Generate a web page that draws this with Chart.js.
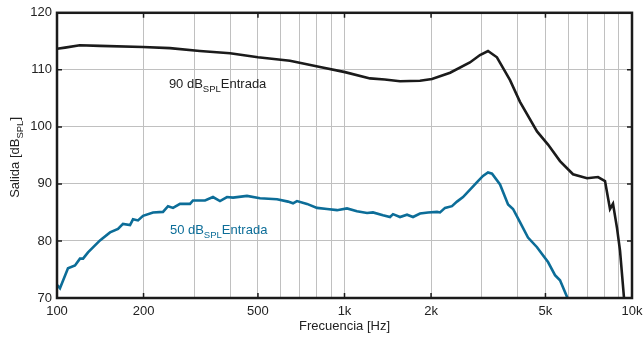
<!DOCTYPE html>
<html>
<head>
<meta charset="utf-8">
<script src="https://cdn.jsdelivr.net/npm/chart.js@4.4.1/dist/chart.umd.min.js"></script>
<style>
    html, body { margin:0; padding:0; background:#ffffff; }
    #wrap { width:644px; height:338px; }
</style>
</head>
<body>
<div id="wrap"><canvas id="chart" width="644" height="338"></canvas></div>
<script>
// ==========================================================
// DATA
// ==========================================================

// 90 dB SPL input (black)
const freq90 = [100, 106.6, 120, 141, 199, 247, 314, 400, 500, 646, 822, 1004, 1227, 1380, 1560,
                1830, 2015, 2330, 2730, 2960, 3156, 3390, 3765, 4077, 4673, 5104, 5618, 6234,
                6976, 7617, 8056, 8385, 8589, 8867, 9085, 9381, 9500];
const level90 = [113.7, 113.9, 114.3, 114.2, 114.0, 113.8, 113.3, 112.9, 112.2, 111.6, 110.5, 109.6,
                 108.5, 108.3, 108.0, 108.1, 108.4, 109.5, 111.3, 112.6, 113.3, 112.2, 108.2, 104.4,
                 99.2, 96.9, 94.0, 91.7, 91.0, 91.2, 90.5, 85.6, 86.5, 82.3, 78.3, 70.0, 68.0];

// 50 dB SPL input (blue)
const freq50 = [100, 102.4, 109.2, 115.5, 120.2, 123.2, 128.2, 141.1, 152.9, 163.0, 169.6, 179.5,
                183.8, 191.3, 199.2, 215.8, 233.7, 243.3, 253.3, 267.8, 290.1, 297.2, 314.3, 327.2,
                348.8, 368.9, 390.2, 409.5, 458.0, 508.3, 582.5, 636.1, 662.1, 683.6, 740.6, 802.2,
                869.2, 941.7, 1020, 1105, 1198, 1256, 1361, 1440, 1475, 1560, 1650, 1731, 1831,
                1952, 2098, 2149, 2237, 2365, 2462, 2584, 2733, 2913, 3032, 3156, 3260, 3475, 3706,
                3857, 4077, 4348, 4673, 4864, 5104, 5398, 5618, 5941, 6150];
const level50 = [72.3, 71.7, 75.2, 75.7, 76.9, 76.9, 78.0, 80.1, 81.5, 82.1, 83.0, 82.8,
                 83.8, 83.6, 84.4, 85.0, 85.1, 86.1, 85.8, 86.5, 86.5, 87.1, 87.1, 87.1,
                 87.7, 87.0, 87.7, 87.6, 87.9, 87.5, 87.3, 86.9, 86.6, 87.0, 86.5, 85.8,
                 85.6, 85.4, 85.7, 85.2, 84.9, 85.0, 84.5, 84.2, 84.7, 84.2, 84.6, 84.2, 84.8,
                 85.0, 85.1, 85.0, 85.8, 86.1, 86.9, 87.7, 89.0, 90.5, 91.4, 92.0, 91.8, 89.9, 86.4,
                 85.6, 83.3, 80.6, 78.9, 77.7, 76.3, 74.0, 73.1, 70.2, 68.5];

// Axis ticks
const xTickLabels = { 100:"100", 200:"200", 500:"500", 1000:"1k", 2000:"2k", 5000:"5k", 10000:"10k" };
const yTicks = [70, 80, 90, 100, 110, 120];

// Text labels  [text, subscript, text]
const label90 = ["90 dB", "SPL", "Entrada"];
const label50 = ["50 dB", "SPL", "Entrada"];
const labelPos90 = { x:245, y:106.8 };
const labelPos50 = { x:247, y:81.3 };

const xTitle = "Frecuencia [Hz]";
const yTitle = ["Salida [dB", "SPL", "]"];


// ==========================================================
// STYLE
// ==========================================================

const FONT = "'Liberation Sans', Arial, Helvetica, sans-serif";
const BLACK = "#1b1b1b";
const BLUE = "#0c6d98";
const GRID = "#c0c0c0";

function toPoints(xs, ys)
{
    return xs.map((x, i) => ({ x:x, y:ys[i] }));
}


// ==========================================================
// TEXT WITH SUBSCRIPT
// ==========================================================

function drawSubText(ctx, parts, x, y, color)
{
    ctx.save();
    ctx.fillStyle = color;
    ctx.textBaseline = "alphabetic";
    ctx.textAlign = "left";

    ctx.font = "13px " + FONT;
    ctx.fillText(parts[0], x, y);
    x += ctx.measureText(parts[0]).width;

    ctx.font = "9.5px " + FONT;
    ctx.fillText(parts[1], x, y + 4);
    x += ctx.measureText(parts[1]).width;

    ctx.font = "13px " + FONT;
    ctx.fillText(parts[2], x, y);
    ctx.restore();
}

function subTextWidth(ctx, parts)
{
    ctx.save();
    ctx.font = "13px " + FONT;
    let w = ctx.measureText(parts[0]).width + ctx.measureText(parts[2]).width;
    ctx.font = "9.5px " + FONT;
    w += ctx.measureText(parts[1]).width;
    ctx.restore();
    return w;
}


// ==========================================================
// PLUGIN: FRAME, INWARD TICKS, TITLES, LABELS
// ==========================================================

const decorPlugin =
{
    id:"decor",
    afterDatasetsDraw(chart)
    {
        const ctx = chart.ctx;
        const a = chart.chartArea;
        const xs = chart.scales.x;
        const ys = chart.scales.y;

        ctx.save();

        // inward ticks
        ctx.strokeStyle = BLACK;
        ctx.lineWidth = 1.5;
        ctx.beginPath();
        Object.keys(xTickLabels).forEach(v =>
        {
            const px = xs.getPixelForValue(Number(v));
            ctx.moveTo(px, a.top); ctx.lineTo(px, a.top + 5);
            ctx.moveTo(px, a.bottom); ctx.lineTo(px, a.bottom - 5);
        });
        yTicks.forEach(v =>
        {
            const py = ys.getPixelForValue(v);
            ctx.moveTo(a.left, py); ctx.lineTo(a.left + 5, py);
            ctx.moveTo(a.right, py); ctx.lineTo(a.right - 5, py);
        });
        ctx.stroke();

        // frame
        ctx.lineWidth = 2.5;
        ctx.strokeRect(a.left, a.top, a.right - a.left, a.bottom - a.top);

        // x title
        ctx.fillStyle = "#222";
        ctx.font = "13px " + FONT;
        ctx.textAlign = "center";
        ctx.textBaseline = "alphabetic";
        ctx.fillText(xTitle, (a.left + a.right) / 2, 330);

        // y title (rotated)
        const w = subTextWidth(ctx, yTitle);
        ctx.translate(19, (a.top + a.bottom) / 2 + w / 2 + 2);
        ctx.rotate(-Math.PI / 2);
        drawSubText(ctx, yTitle, 0, 0, "#222");
        ctx.restore();

        // curve labels
        drawSubText(ctx, label90, xs.getPixelForValue(labelPos90.x), ys.getPixelForValue(labelPos90.y), "#222");
        drawSubText(ctx, label50, xs.getPixelForValue(labelPos50.x), ys.getPixelForValue(labelPos50.y), BLUE);
    }
};


// ==========================================================
// CHART
// ==========================================================

new Chart(document.getElementById("chart"),
{
    type:"line",
    data:{
        datasets:[
            { label:"90 dB SPL Entrada", data:toPoints(freq90, level90), borderColor:BLACK, borderWidth:2.6,
              pointRadius:0, fill:false, tension:0 },
            { label:"50 dB SPL Entrada", data:toPoints(freq50, level50), borderColor:BLUE, borderWidth:2.6,
              pointRadius:0, fill:false, tension:0 }
        ]
    },
    options:{
        responsive:false,
        animation:false,
        events:[],
        layout:{ padding:{ top:10, right:12, left:0, bottom:0 } },
        plugins:{ legend:{ display:false }, tooltip:{ enabled:false } },
        scales:{
            x:{
                type:"logarithmic",
                min:100, max:10000,
                afterFit(scale)
                {
                    scale.height = 40;
                    scale.paddingLeft = 0;
                    scale.paddingRight = 0;
                },
                afterBuildTicks(scale)
                {
                    const t = [];
                    [100, 1000].forEach(d => { for (let k = 1; k < 10; k++) t.push({ value:d * k }); });
                    t.push({ value:10000 });
                    scale.ticks = t;
                },
                grid:{ color:GRID, lineWidth:1, drawTicks:false },
                border:{ display:false },
                ticks:{
                    autoSkip:false, maxRotation:0, padding:6,
                    color:"#222", font:{ family:FONT, size:13 },
                    callback:(v) => xTickLabels[v] || ""
                }
            },
            y:{
                min:70, max:120,
                afterFit(scale){ scale.width = 57; },
                grid:{ color:GRID, lineWidth:1, drawTicks:false },
                border:{ display:false },
                ticks:{ stepSize:10, padding:5, color:"#222", font:{ family:FONT, size:13 } }
            }
        }
    },
    plugins:[decorPlugin]
});
</script>
</body>
</html>
